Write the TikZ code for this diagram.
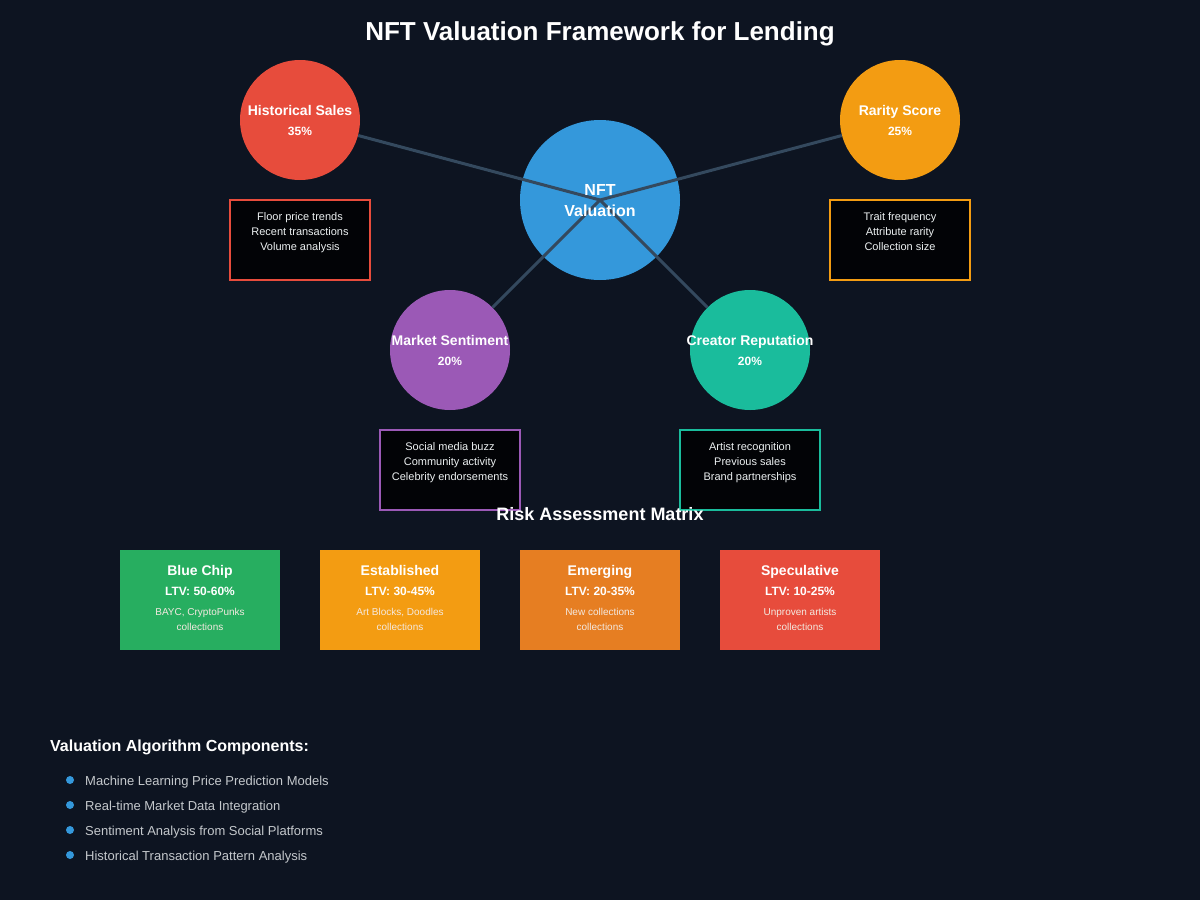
\documentclass[tikz,border=0pt]{standalone}
\usepackage{fontspec}
\setmainfont{Liberation Sans}
\begin{document}
\begin{tikzpicture}[x=1pt,y=-1pt,
  bg/.style={fill=bgc,draw=none},
  factor/.style={circle,draw=none,minimum size=120pt,inner sep=0pt},
  link/.style={draw=linkc,line width=3pt},
  detail/.style={draw=#1,line width=2pt,fill=boxc,minimum width=140pt,minimum height=80pt,inner sep=0pt},
  card/.style={fill=#1,draw=none,minimum width=160pt,minimum height=100pt,inner sep=0pt},
  txt/.style={text=white,inner sep=0pt,anchor=base,font=\bfseries\fontsize{#1}{#1}\selectfont},
  dtxt/.style={text=dtc,inner sep=0pt,anchor=base,font=\fontsize{11}{11}\selectfont},
  ctxt/.style={text=ctc,inner sep=0pt,anchor=base,font=\fontsize{10}{10}\selectfont},
  itxt/.style={text=itc,inner sep=0pt,anchor=base west,font=\fontsize{13}{13}\selectfont},
  bullet/.style={circle,fill=nftc,draw=none,minimum size=8pt,inner sep=0pt}
]
\definecolor{bgc}{HTML}{0D1421}
\definecolor{linkc}{HTML}{34495E}
\definecolor{boxc}{HTML}{020306}
\definecolor{hsc}{HTML}{E74C3C}
\definecolor{rsc}{HTML}{F39C12}
\definecolor{msc}{HTML}{9B59B6}
\definecolor{crc}{HTML}{1ABC9C}
\definecolor{nftc}{HTML}{3498DB}
\definecolor{greenc}{HTML}{27AE60}
\definecolor{emc}{HTML}{E67E22}
\definecolor{dtc}{HTML}{ECF0F1}
\definecolor{ctc}{HTML}{F3E9E0}
\definecolor{itc}{HTML}{C4C8CC}
\fill[bgc] (0,0) rectangle (1200,900);
\useasboundingbox (0,0) rectangle (1200,900);

\node[txt=26] (title) at (600,40) {NFT Valuation Framework for Lending};

% central circle
\node[circle,fill=nftc,minimum size=160pt,inner sep=0pt] (nft) at (600,200) {};
% outer circles
\node[factor,fill=hsc] (hs) at (300,120) {};
\node[factor,fill=rsc] (rs) at (900,120) {};
\node[factor,fill=msc] (ms) at (450,350) {};
\node[factor,fill=crc] (cr) at (750,350) {};
% links
\draw[link] (nft.center) -- (hs);
\draw[link] (nft.center) -- (rs);
\draw[link] (nft.center) -- (ms);
\draw[link] (nft.center) -- (cr);

\node[txt=16] (nftl1) at (600,195) {NFT};
\node[txt=16] (nftl2) at (600,216) {Valuation};

\node[txt=14] (hsl) at (300,115) {Historical Sales};
\node[txt=12] (hsp) at (300,135) {35\%};
\node[txt=14] (rsl) at (900,115) {Rarity Score};
\node[txt=12] (rsp) at (900,135) {25\%};
\node[txt=14] (msl) at (450,345) {Market Sentiment};
\node[txt=12] (msp) at (450,365) {20\%};
\node[txt=14] (crl) at (750,345) {Creator Reputation};
\node[txt=12] (crp) at (750,365) {20\%};

% detail boxes
\node[detail=hsc] (hsd) at (300,240) {};
\node[dtxt] (hsd1) at (300,220) {Floor price trends};
\node[dtxt] (hsd2) at (300,235) {Recent transactions};
\node[dtxt] (hsd3) at (300,250) {Volume analysis};

\node[detail=rsc] (rsd) at (900,240) {};
\node[dtxt] (rsd1) at (900,220) {Trait frequency};
\node[dtxt] (rsd2) at (900,235) {Attribute rarity};
\node[dtxt] (rsd3) at (900,250) {Collection size};

\node[detail=msc] (msd) at (450,470) {};
\node[dtxt] (msd1) at (450,450) {Social media buzz};
\node[dtxt] (msd2) at (450,465) {Community activity};
\node[dtxt] (msd3) at (450,480) {Celebrity endorsements};

\node[detail=crc] (crd) at (750,470) {};
\node[dtxt] (crd1) at (750,450) {Artist recognition};
\node[dtxt] (crd2) at (750,465) {Previous sales};
\node[dtxt] (crd3) at (750,480) {Brand partnerships};

% risk matrix
\node[txt=18] (rtitle) at (600,520) {Risk Assessment Matrix};

\node[card=greenc] (c1) at (200,600) {};
\node[txt=14] (c1t) at (200,575) {Blue Chip};
\node[txt=12] (c1l) at (200,595) {LTV: 50-60\%};
\node[ctxt] (c1a) at (200,615) {BAYC, CryptoPunks};
\node[ctxt] (c1b) at (200,630) {collections};

\node[card=rsc] (c2) at (400,600) {};
\node[txt=14] (c2t) at (400,575) {Established};
\node[txt=12] (c2l) at (400,595) {LTV: 30-45\%};
\node[ctxt] (c2a) at (400,615) {Art Blocks, Doodles};
\node[ctxt] (c2b) at (400,630) {collections};

\node[card=emc] (c3) at (600,600) {};
\node[txt=14] (c3t) at (600,575) {Emerging};
\node[txt=12] (c3l) at (600,595) {LTV: 20-35\%};
\node[ctxt] (c3a) at (600,615) {New collections};
\node[ctxt] (c3b) at (600,630) {collections};

\node[card=hsc] (c4) at (800,600) {};
\node[txt=14] (c4t) at (800,575) {Speculative};
\node[txt=12] (c4l) at (800,595) {LTV: 10-25\%};
\node[ctxt] (c4a) at (800,615) {Unproven artists};
\node[ctxt] (c4b) at (800,630) {collections};

% algorithm components
\node[txt=16,anchor=base west] (alg) at (50,751) {Valuation Algorithm Components:};
\node[bullet] (b1) at (70,780) {};
\node[itxt] (i1) at (85,785) {Machine Learning Price Prediction Models};
\node[bullet] (b2) at (70,805) {};
\node[itxt] (i2) at (85,810) {Real-time Market Data Integration};
\node[bullet] (b3) at (70,830) {};
\node[itxt] (i3) at (85,835) {Sentiment Analysis from Social Platforms};
\node[bullet] (b4) at (70,855) {};
\node[itxt] (i4) at (85,860) {Historical Transaction Pattern Analysis};
\end{tikzpicture}
\end{document}
